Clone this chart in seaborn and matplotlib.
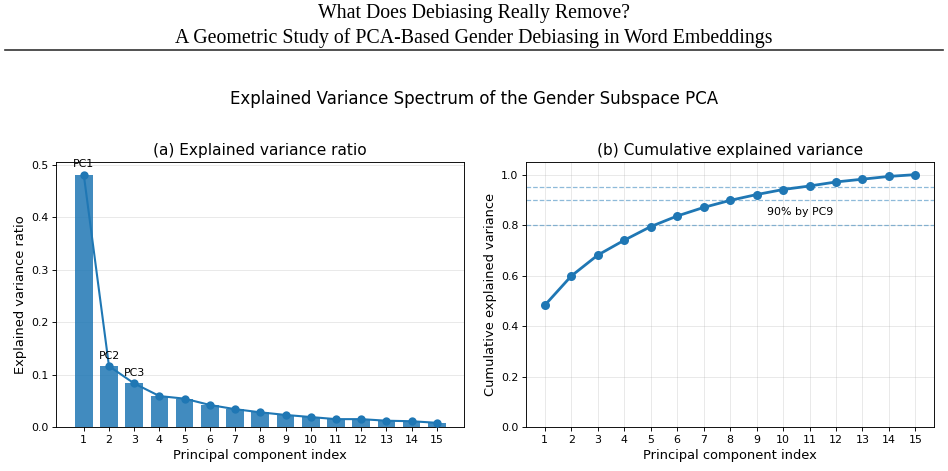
import numpy as np
import seaborn as sns
import matplotlib.pyplot as plt

# explained variance ratio per principal component
pcs = list(range(1, 16))
ratios = [0.481, 0.116, 0.083, 0.059, 0.054, 0.042, 0.034, 0.028,
          0.023, 0.019, 0.015, 0.015, 0.012, 0.011, 0.008]
cumulative = [0.482, 0.598, 0.681, 0.740, 0.794, 0.836, 0.870, 0.898,
              0.921, 0.941, 0.955, 0.971, 0.982, 0.993, 1.000]
thresholds = [0.8, 0.9, 0.95]
annotated = ['PC1', 'PC2', 'PC3']

blue = '#1f77b4'

plt.rcParams.update({
    'axes.linewidth': 0.65,
    'xtick.major.size': 2.8, 'ytick.major.size': 2.8,
    'xtick.major.width': 0.65, 'ytick.major.width': 0.65,
    'xtick.major.pad': 2.8, 'ytick.major.pad': 2.8,
    'axes.labelpad': 3.2,
})

fig, (ax1, ax2) = plt.subplots(1, 2, figsize=(9.48, 4.71), dpi=100)
fig.subplots_adjust(left=0.0595, right=0.9852, top=0.656, bottom=0.0934, wspace=0.152)

# page header
fig.text(0.5, 0.972, 'What Does Debiasing Really Remove?', ha='center', va='center',
         family='Liberation Serif', fontsize=14.3)
fig.text(0.5, 0.92, 'A Geometric Study of PCA-Based Gender Debiasing in Word Embeddings',
         ha='center', va='center', family='Liberation Serif', fontsize=14.3)
fig.add_artist(plt.Line2D([0.005, 0.995], [0.893, 0.893], color='#333333', lw=1.2,
                          transform=fig.transFigure))

fig.suptitle('Explained Variance Spectrum of the Gender Subspace PCA', y=0.79,
             va='center', fontsize=12)

# (a) explained variance ratio
sns.barplot(x=pcs, y=ratios, native_scale=True, color=blue, alpha=0.85, saturation=1,
            width=0.7, ax=ax1, zorder=2)
sns.lineplot(x=pcs, y=ratios, color=blue, marker='o', markersize=6,
             markeredgewidth=0, lw=1.5, ax=ax1, zorder=3)
for i, lab in enumerate(annotated):
    ax1.annotate(lab, (pcs[i], ratios[i]), xytext=(0, 4), textcoords='offset points',
                 ha='center', va='bottom', fontsize=7.9)
ax1.set_xticks(pcs)
ax1.set_xticklabels([str(p) for p in pcs])
ax1.set_title('(a) Explained variance ratio', fontsize=11.1, pad=4.7)
ax1.set_xlabel('Principal component index', fontsize=9.4)
ax1.set_ylabel('Explained variance ratio', fontsize=9.4)
ax1.yaxis.grid(True, alpha=0.3, lw=0.65)
ax1.xaxis.grid(False)
ax1.set_axisbelow(True)

# (b) cumulative explained variance
sns.lineplot(x=pcs, y=cumulative, color=blue, marker='o', markersize=6.5,
             markeredgewidth=0, lw=2, ax=ax2, zorder=3)
for t in thresholds:
    ax2.axhline(t, color=blue, ls='--', lw=0.9, alpha=0.5)
ax2.text(9.4, 0.85, '90% by PC9', ha='left', va='center', fontsize=7.9)
ax2.set_ylim(0, 1.05)
ax2.set_xticks(pcs)
ax2.set_title('(b) Cumulative explained variance', fontsize=11.1, pad=4.7)
ax2.set_xlabel('Principal component index', fontsize=9.4)
ax2.set_ylabel('Cumulative explained variance', fontsize=9.4)
ax2.grid(True, alpha=0.3, lw=0.65)
ax2.set_axisbelow(True)

for ax in (ax1, ax2):
    ax.tick_params(labelsize=7.9)

fig.savefig('out.png', dpi=100)
